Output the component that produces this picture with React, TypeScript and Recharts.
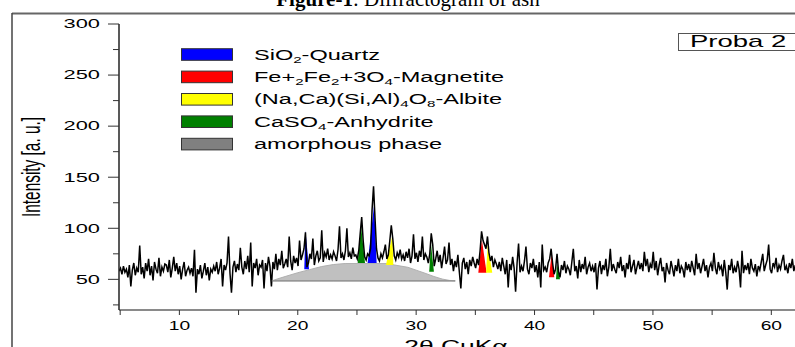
import React from 'react';
import { ComposedChart, Line, Area, XAxis, YAxis } from 'recharts';

// measured pattern: 2θ from 4.9° in 0.125° steps
const thetaStart = 4.9;
const thetaStep = 0.125;
const intensity = [
  58, 61, 55, 63, 57, 60, 52, 64, 43, 59, 66, 54, 61, 57, 83, 55,
  62, 51, 66, 58, 70, 54, 63, 49, 67, 60, 56, 71, 53, 62, 58, 65,
  64, 57, 69, 52, 61, 72, 58, 66, 55, 63, 50, 60, 67, 53, 59, 62,
  56, 61, 53, 79, 37, 60, 55, 64, 51, 58, 66, 54, 62, 49, 60, 57,
  63, 58, 67, 55, 61, 70, 43, 64, 59, 66, 92, 56, 37, 62, 68, 57,
  65, 59, 81, 62, 55, 68, 60, 73, 57, 86, 43, 66, 61, 70, 54, 64,
  62, 69, 41, 66, 58, 72, 63, 43, 67, 60, 75, 59, 70, 64, 78, 61,
  65, 70, 62, 92, 68, 59, 73, 66, 71, 63, 88, 69, 74, 80, 96, 62,
  66, 75, 70, 90, 64, 73, 78, 68, 71, 98, 67, 76, 72, 80, 69, 74,
  70, 77, 73, 68, 79, 102, 71, 75, 69, 78, 100, 72, 76, 70, 81, 73,
  74, 70, 78, 95, 111, 88, 72, 69, 75, 73, 80, 118, 141, 110, 80, 71,
  68, 75, 71, 77, 84, 70, 74, 88, 103, 90, 73, 69, 76, 72, 79, 70,
  74, 68, 77, 71, 80, 66, 73, 94, 70, 76, 67, 78, 72, 92, 69, 75,
  72, 66, 75, 95, 84, 63, 70, 78, 67, 74, 61, 71, 82, 65, 69, 86,
  64, 70, 58, 68, 62, 74, 57, 41, 66, 71, 60, 67, 55, 69, 63, 72,
  66, 61, 70, 64, 78, 97, 88, 84, 80, 92, 76, 68, 73, 62, 69, 65,
  60, 67, 58, 71, 63, 55, 69, 42, 65, 59, 72, 61, 38, 66, 85, 57,
  63, 58, 68, 82, 60, 55, 66, 61, 70, 57, 64, 52, 67, 42, 84, 59,
  62, 57, 66, 70, 80, 66, 55, 60, 75, 58, 52, 64, 59, 68, 56, 63,
  60, 54, 67, 80, 58, 63, 51, 69, 57, 65, 60, 72, 55, 62, 66, 58,
  63, 57, 66, 40, 61, 68, 55, 64, 59, 70, 53, 62, 80, 58, 65, 60,
  56, 67, 61, 72, 58, 64, 52, 66, 60, 74, 57, 63, 69, 55, 62, 68,
  60, 66, 58, 77, 63, 70, 57, 65, 61, 77, 59, 68, 54, 64, 71, 58,
  62, 47, 66, 59, 55, 68, 61, 53, 64, 58, 70, 56, 63, 60, 52, 67,
  59, 65, 57, 68, 61, 54, 75, 60, 66, 56, 63, 70, 58, 64, 52, 62,
  66, 58, 76, 61, 55, 67, 60, 63, 53, 69, 57, 40, 64, 59, 70, 56,
  62, 57, 68, 60, 42, 78, 56, 64, 59, 66, 55, 70, 61, 58, 65, 53,
  63, 59, 67, 75, 58, 64, 69, 84, 60, 56, 66, 62, 71, 57, 64, 60,
  68, 74, 59, 63, 56, 66, 61, 70, 58, 64,
];

// amorphous hump
const amorphousTheta = [17.8, 18.3, 19, 20, 21, 22, 23, 24, 27.5, 28.2, 29.3, 30, 30.75, 31.5, 32.2, 32.8, 33.3];
const amorphousTop = [48.5, 50.5, 53, 56.5, 59.5, 62.5, 64.5, 65.5, 65.5, 64, 61.8, 59, 56, 52.8, 50.3, 49, 48.5];
const amorphousBase = 48.5;

// identified reflections
const peakPhase = ['quartz', 'anhydrite', 'quartz', 'albite', 'anhydrite', 'magnetite', 'albite', 'magnetite', 'anhydrite'];
const peakLeft = [20.55, 25.06, 25.9, 27.45, 31.1, 35.25, 35.9, 41.22, 41.81];
const peakApex = [20.65, 25.35, 26.45, 28.0, 31.25, 35.55, 36.04, 41.44, 41.9];
const peakRight = [20.95, 25.68, 26.66, 28.07, 31.5, 35.95, 36.43, 41.67, 42.15];
const peakBase = [60, 66, 66, 64, 57.5, 56.5, 56.5, 52, 50];
const peakTop = [98, 102, 123, 93.5, 85, 89, 84, 75, 66];

const xTicks = [5, 10, 15, 20, 25, 30, 35, 40, 45, 50, 55, 60];
const yTicks = [25, 50, 75, 100, 125, 150, 175, 200, 225, 250, 275, 300];

const phaseColor: Record<string, string> = {
  quartz: '#0000ff',
  magnetite: '#ff0000',
  albite: '#ffff00',
  anhydrite: '#008000',
  amorphous: '#808080',
};

// legend labels, '_' marks a subscript segment
const legendKeys = ['quartz', 'magnetite', 'albite', 'anhydrite', 'amorphous'];
const legendLabels = [
  ['SiO', '_2', '-Quartz'],
  ['Fe+', '_2', 'Fe', '_2', '+3O', '_4', '-Magnetite'],
  ['(Na,Ca)(Si,Al)', '_4', 'O', '_8', '-Albite'],
  ['CaSO', '_4', '-Anhydrite'],
  ['amorphous phase'],
];

const FONT = 'Liberation Sans, Arial, sans-serif';

const pattern = intensity.map((v, i) => ({ theta: +(thetaStart + i * thetaStep).toFixed(3), v }));
const amorphous = amorphousTheta.map((t, i) => ({ theta: t, v: [amorphousBase, amorphousTop[i]] }));
const amorphousFloor = [
  { theta: amorphousTheta[0], v: amorphousBase },
  { theta: amorphousTheta[amorphousTheta.length - 1], v: amorphousBase },
];
const peaks = peakPhase.map((phase, i) => ({
  phase,
  data: [
    { theta: peakLeft[i], v: [peakBase[i], peakBase[i]] },
    { theta: peakApex[i], v: [peakBase[i], peakTop[i]] },
    { theta: peakRight[i], v: [peakBase[i], peakBase[i]] },
  ],
}));

function XTick({ x, y, payload }: any) {
  const major = payload.value % 10 === 0;
  return (
    <g>
      <line x1={x} y1={y} x2={x} y2={y + 5} stroke="#333" strokeWidth={1} />
      {major && (
        <text
          transform={`translate(${x},${y + 16}) scale(1.6,1)`}
          textAnchor="middle"
          dominantBaseline="central"
          fontSize={12}
          fontFamily={FONT}
          fill="#000"
        >
          {payload.value}
        </text>
      )}
    </g>
  );
}

function YTick({ x, y, payload }: any) {
  const major = payload.value % 50 === 0;
  return (
    <g>
      <line x1={x - (major ? 11 : 6)} y1={y} x2={x} y2={y} stroke="#333" strokeWidth={1} />
      {major && (
        <text
          transform={`translate(${x - 19},${y}) scale(1.68,1)`}
          textAnchor="end"
          dominantBaseline="central"
          fontSize={13}
          fontFamily={FONT}
          fill="#000"
        >
          {payload.value}
        </text>
      )}
    </g>
  );
}

function LegendLabel({ parts }: { parts: string[] }) {
  let lowered = false;
  return (
    <>
      {parts.map((p, j) => {
        const sub = p.startsWith('_');
        let dy = 0;
        if (sub && !lowered) dy = 3;
        if (!sub && lowered) dy = -3;
        lowered = sub;
        return (
          <tspan key={j} dy={dy} fontSize={sub ? 9 : 14}>
            {sub ? p.slice(1) : p}
          </tspan>
        );
      })}
    </>
  );
}

function Overlay() {
  return (
    <svg width={795} height={347} style={{ position: 'absolute', left: 0, top: 0, pointerEvents: 'none' }}>
      <text x={408} y={5.5} textAnchor="middle" fontSize={21} fontFamily="Liberation Serif, Times New Roman, serif" fill="#000">
        <tspan fontWeight="bold">Figure-1</tspan>
        <tspan>: Diffractogram of ash</tspan>
      </text>
      <line x1={12} y1={13.5} x2={795} y2={13.5} stroke="#666" strokeWidth={2} />
      <line x1={12} y1={13} x2={12} y2={347} stroke="#444" strokeWidth={1.5} />

      <text
        transform="translate(40,167) rotate(-90) scale(1,1.63)"
        textAnchor="middle"
        fontSize={15.4}
        fontFamily={FONT}
        fill="#000"
      >
        Intensity [a. u.]
      </text>
      <text transform="translate(456,351.5) scale(1.65,1)" textAnchor="middle" fontSize={16} fontFamily={FONT} fill="#000">
        2θ CuKα
      </text>

      {legendKeys.map((k, i) => {
        const cy = 54.5 + i * 22.4;
        return (
          <g key={k}>
            <rect x={181.5} y={cy - 5.8} width={51} height={11.6} fill={phaseColor[k]} stroke="#333" strokeWidth={1} />
            <text transform={`translate(254,${cy + 5}) scale(1.68,1)`} fontSize={14} fontFamily={FONT} fill="#000">
              <LegendLabel parts={legendLabels[i]} />
            </text>
          </g>
        );
      })}

      <rect x={678.5} y={33.5} width={130} height={17} fill="#fff" stroke="#555" strokeWidth={1} />
      <text transform="translate(690,46.5) scale(1.72,1)" fontSize={16} fontFamily={FONT} fill="#000">
        Proba 2
      </text>
    </svg>
  );
}

export default function App() {
  return (
    <div style={{ position: 'fixed', left: 0, top: 0, width: 795, height: 347, overflow: 'hidden', background: '#fff' }}>
      <ComposedChart width={795} height={347} data={pattern} margin={{ top: 24, right: 0, bottom: 0, left: 0 }}>
        <XAxis
          dataKey="theta"
          type="number"
          domain={[4.9, 62]}
          allowDataOverflow
          ticks={xTicks}
          tick={<XTick />}
          tickLine={false}
          tickSize={0}
          tickMargin={0}
          height={37}
          axisLine={{ stroke: '#8a8a8a', strokeWidth: 2 }}
          interval={0}
        />
        <YAxis
          type="number"
          domain={[20, 300]}
          allowDataOverflow
          ticks={yTicks}
          tick={<YTick />}
          tickLine={false}
          tickSize={0}
          tickMargin={0}
          width={119}
          axisLine={{ stroke: '#222', strokeWidth: 1.5 }}
          interval={0}
        />
        <Line
          dataKey="v"
          type="linear"
          stroke="#000"
          strokeWidth={1.5}
          dot={false}
          isAnimationActive={false}
        />
        <Area
          data={amorphous}
          dataKey="v"
          type="linear"
          fill="#c0c0c0"
          fillOpacity={1}
          stroke="#b0b0b0"
          strokeWidth={1}
          isAnimationActive={false}
        />
        <Line
          data={amorphousFloor}
          dataKey="v"
          type="linear"
          stroke="#8c8c8c"
          strokeWidth={1.2}
          dot={false}
          isAnimationActive={false}
        />
        {peaks.map((p, i) => (
          <Area
            key={i}
            data={p.data}
            dataKey="v"
            type="linear"
            fill={phaseColor[p.phase]}
            fillOpacity={1}
            stroke="none"
            isAnimationActive={false}
          />
        ))}
      </ComposedChart>
      <Overlay />
    </div>
  );
}
